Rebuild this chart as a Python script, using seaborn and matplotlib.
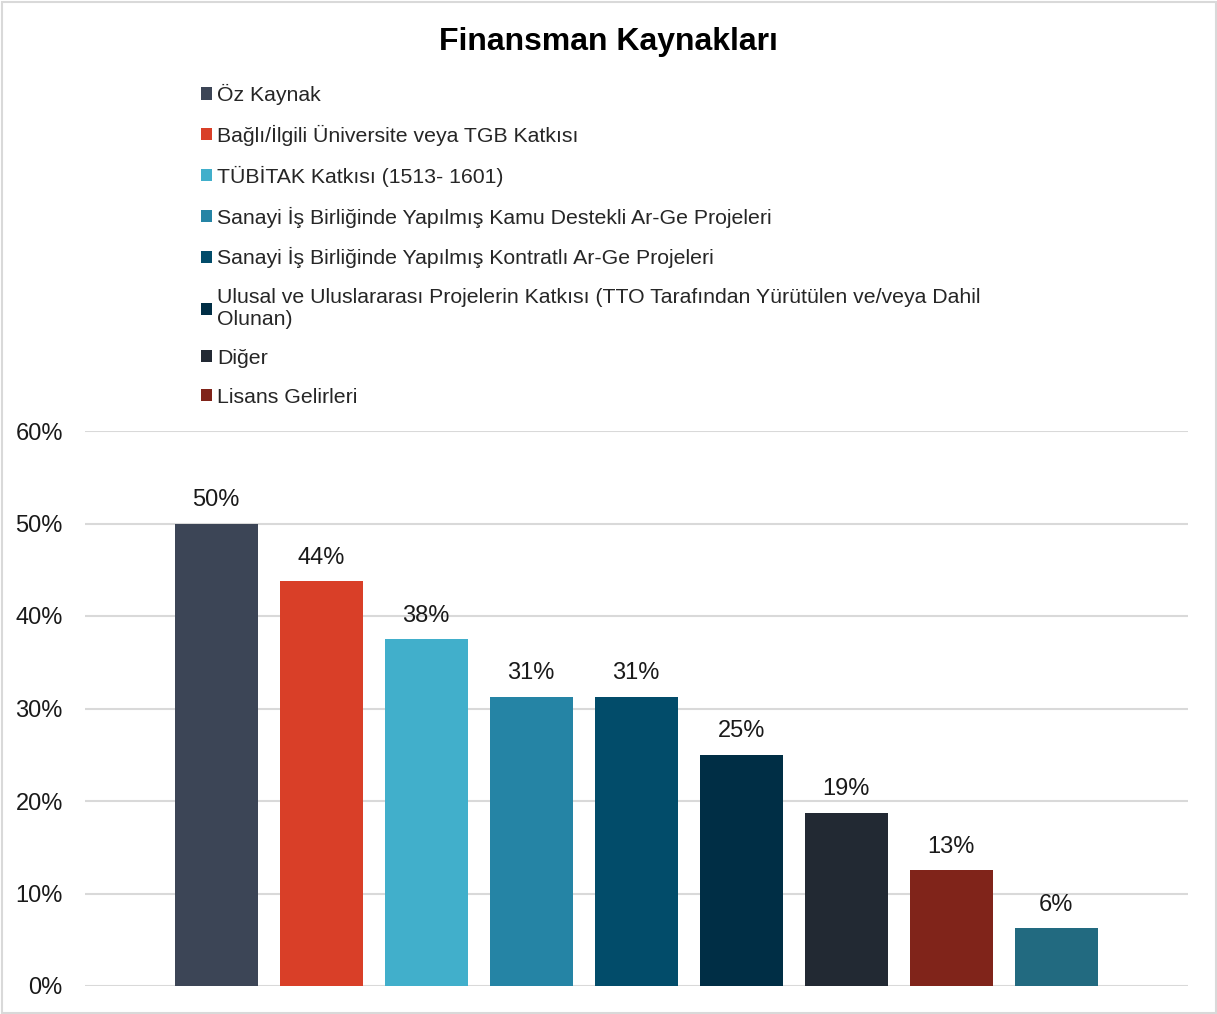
import matplotlib
matplotlib.use("Agg")
import matplotlib.pyplot as plt
import seaborn as sns
import pandas as pd
from matplotlib.ticker import PercentFormatter

# categories (the last bar has no entry in the original legend)
categories = [
    "Öz Kaynak",
    "Bağlı/İlgili Üniversite veya TGB Katkısı",
    "TÜBİTAK Katkısı (1513- 1601)",
    "Sanayi İş Birliğinde Yapılmış Kamu Destekli Ar-Ge Projeleri",
    "Sanayi İş Birliğinde Yapılmış Kontratlı Ar-Ge Projeleri",
    "Ulusal ve Uluslararası Projelerin Katkısı (TTO Tarafından Yürütülen ve/veya Dahil\nOlunan)",
    "Diğer",
    "Lisans Gelirleri",
    "(legend dışı)",
]
shares = [0.50, 0.4375, 0.375, 0.3125, 0.3125, 0.25, 0.1875, 0.125, 0.0625]
colors = ["#3C4556", "#D93F28", "#41AFCB", "#2584A5", "#024C6A",
          "#002E45", "#222933", "#80241A", "#226A80"]
n_legend = 8

df = pd.DataFrame({"kaynak": categories, "oran": shares})

sns.set_style("white")
plt.rcParams["font.family"] = ["Liberation Sans", "DejaVu Sans"]

W, H = 1217, 1014
fig = plt.figure(figsize=(W / 100, H / 100), dpi=100)
ax = fig.add_axes([85 / W, 1 - 986 / H, (1188 - 85) / W, (986 - 431) / H])

sns.barplot(data=df, x="kaynak", y="oran", hue="kaynak", palette=colors,
            width=0.79, legend=False, ax=ax, saturation=1, linewidth=0)

ax.set_ylim(0, 0.6)
ax.set_xlim(-1.25, 9.255)
ax.yaxis.set_major_formatter(PercentFormatter(1.0, decimals=0))
ax.set_yticks([0, 0.1, 0.2, 0.3, 0.4, 0.5, 0.6])
ax.tick_params(axis="y", length=0, pad=16, labelsize=17, labelcolor="#1a1a1a")
ax.set_xticks([])
ax.set_xlabel("")
ax.set_ylabel("")
ax.grid(axis="y", color="#D9D9D9", linewidth=1.5)
ax.set_axisbelow(True)
for s in ax.spines.values():
    s.set_visible(False)

for cont in ax.containers:
    # round half up like Excel does
    ax.bar_label(cont, labels=[f"{int(v * 100 + 0.5)}%" for v in cont.datavalues],
                 padding=9, fontsize=17, color="#1a1a1a")

handles = [p for p in ax.patches][:n_legend]
fig.legend(handles, categories[:n_legend], loc="upper left",
           bbox_to_anchor=(201 / W, 1 - 84 / H), frameon=False,
           fontsize=15.3, handlelength=0.5, handleheight=0.5,
           handletextpad=0.25, labelspacing=0.93, borderpad=0,
           borderaxespad=0)

fig.text(0.5, 1 - 42 / H, "Finansman Kaynakları", ha="center", va="center",
         fontsize=23, fontweight="bold", color="#000000")

fig.patches.append(plt.Rectangle((1.5 / W, 1.5 / H), 1 - 3 / W, 1 - 3 / H,
                                 transform=fig.transFigure, fill=False,
                                 edgecolor="#D9D9D9", linewidth=1.5))

fig.savefig("out.png", dpi=100)
